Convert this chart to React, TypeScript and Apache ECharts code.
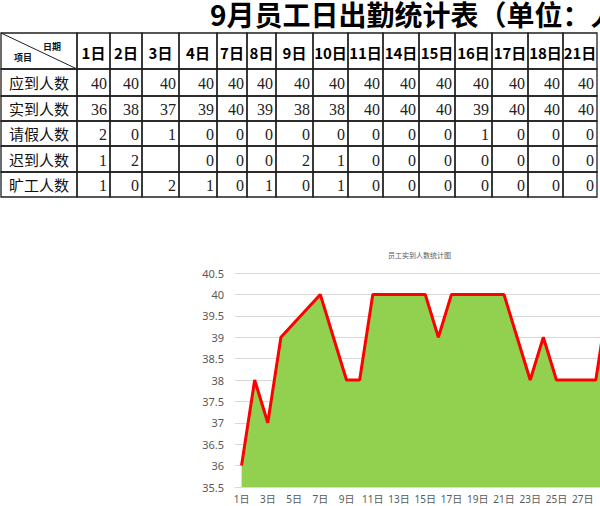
import React, { useEffect, useRef } from 'react';
import * as echarts from 'echarts';

// 标题
const PAGE_TITLE = '9月员工日出勤统计表（单位：人）';
const CHART_TITLE = '员工实到人数统计图';

// 表格数据
const tableDays = ['1日', '2日', '3日', '4日', '7日', '8日', '9日', '10日', '11日', '14日', '15日', '16日', '17日', '18日', '21日'];
const tableDayNums = [1, 2, 3, 4, 7, 8, 9, 10, 11, 14, 15, 16, 17, 18, 21];
const rowNames = ['应到人数', '实到人数', '请假人数', '迟到人数', '旷工人数'];
const expected = [40, 40, 40, 40, 40, 40, 40, 40, 40, 40, 40, 40, 40, 40, 40];
const actual = [36, 38, 37, 39, 40, 39, 38, 38, 40, 40, 40, 39, 40, 40, 40];
const leave = [2, 0, 1, 0, 0, 0, 0, 0, 0, 0, 0, 1, 0, 0, 0];
const late: (number | null)[] = [1, 2, null, 0, 0, 0, 2, 1, 0, 0, 0, 0, 0, 0, 0];
const absent = [1, 0, 2, 1, 0, 1, 0, 1, 0, 0, 0, 0, 0, 0, 0];

// 图表中表格以外的日期（表格右侧被截掉的部分）
const extraDayNums = [22, 23, 24, 25, 28, 29];
const extraActual = [39, 38, 39, 38, 38, 40];

// x轴刻度标签
const axisDays = Array.from({ length: 29 }, (_, i) => `${i + 1}日`);
const LAST_LABEL_INDEX = 26; // 27日 之后的标签在截图外

// 布局（像素）
const COL_W = [76, 33, 32, 37, 38, 30, 29, 37, 35, 35, 36, 36, 37, 36, 35, 34];
const ROW_H = [36, 27, 25, 25, 26, 25];

const App: React.FC = () => {
  const chartRef = useRef<HTMLDivElement>(null);

  useEffect(() => {
    if (!chartRef.current) return;
    const chart = echarts.init(chartRef.current, undefined, { renderer: 'svg' });

    const colEdges = [0];
    COL_W.forEach(w => colEdges.push(colEdges[colEdges.length - 1] + w));
    const rowEdges = [0];
    ROW_H.forEach(h => rowEdges.push(rowEdges[rowEdges.length - 1] + h));
    const tableW = colEdges[colEdges.length - 1];
    const tableH = rowEdges[rowEdges.length - 1];

    type Cell = { c: number; r: number; text: string; kind: 'corner' | 'head' | 'name' | 'num' };
    const rows = [expected, actual, leave, late, absent];
    const cells: Cell[] = [{ c: 0, r: 0, text: '', kind: 'corner' }];
    tableDays.forEach((d, i) => cells.push({ c: i + 1, r: 0, text: d, kind: 'head' }));
    rowNames.forEach((name, r) => {
      cells.push({ c: 0, r: r + 1, text: name, kind: 'name' });
      rows[r].forEach((v, i) =>
        cells.push({ c: i + 1, r: r + 1, text: v == null ? '' : String(v), kind: 'num' })
      );
    });

    const cjk = '"Noto Sans CJK SC", sans-serif';

    const renderCell = (params: any, api: any) => {
      const cell = cells[params.dataIndex];
      const p0 = api.coord([colEdges[cell.c], rowEdges[cell.r]]);
      const p1 = api.coord([colEdges[cell.c + 1], rowEdges[cell.r + 1]]);
      const w = p1[0] - p0[0];
      const h = p1[1] - p0[1];
      const children: any[] = [
        {
          type: 'rect',
          shape: { x: p0[0], y: p0[1], width: w, height: h },
          style: { fill: 'none', stroke: '#1f1f1f', lineWidth: 1.3 }
        }
      ];
      const cy = p0[1] + h / 2;
      if (cell.kind === 'corner') {
        children.push(
          { type: 'line', shape: { x1: p0[0], y1: p0[1], x2: p1[0], y2: p1[1] }, style: { stroke: '#1f1f1f', lineWidth: 1 } },
          { type: 'text', x: p0[0] + 51, y: p0[1] + 13, style: { text: '日期', font: `bold 9px ${cjk}`, fill: '#111', align: 'center', verticalAlign: 'middle' } },
          { type: 'text', x: p0[0] + 22, y: p0[1] + 24, style: { text: '项目', font: `bold 9px ${cjk}`, fill: '#111', align: 'center', verticalAlign: 'middle' } }
        );
      } else if (cell.kind === 'head') {
        children.push({
          type: 'text', x: p0[0] + w / 2, y: cy + 1,
          style: { text: cell.text, font: `bold 15px ${cjk}`, fill: '#000', align: 'center', verticalAlign: 'middle' }
        });
      } else if (cell.kind === 'name') {
        children.push({
          type: 'text', x: p0[0] + w / 2, y: cy,
          style: { text: cell.text, font: `15px ${cjk}`, fill: '#111', align: 'center', verticalAlign: 'middle' }
        });
      } else {
        children.push({
          type: 'text', x: p1[0] - 3, y: cy + 1,
          style: { text: cell.text, font: '16px "Liberation Serif", serif', fill: '#222', align: 'right', verticalAlign: 'middle' }
        });
      }
      return { type: 'group', children };
    };

    const lineData = tableDayNums
      .map((d, i) => [`${d}日`, actual[i]])
      .concat(extraDayNums.map((d, i) => [`${d}日`, extraActual[i]]));

    const options: any = {
      animation: false,
      backgroundColor: '#fff',
      graphic: [
        {
          type: 'text', x: 210, y: 14,
          style: { text: PAGE_TITLE, font: `bold 28px ${cjk}`, fill: '#000', verticalAlign: 'middle' }
        },
        {
          type: 'text', x: 419.5, y: 255,
          style: { text: CHART_TITLE, font: `7px ${cjk}`, fill: '#595959', align: 'center', verticalAlign: 'middle' }
        }
      ],
      grid: [
        { left: 1, top: 33, width: tableW, height: tableH },
        { left: 235, top: 273, width: 380.5, height: 214 }
      ],
      xAxis: [
        { gridIndex: 0, type: 'value', min: 0, max: tableW, show: false },
        {
          gridIndex: 1,
          type: 'category',
          data: axisDays,
          boundaryGap: true,
          axisLine: { lineStyle: { color: '#d9d9d9' } },
          axisTick: { show: false },
          axisLabel: {
            interval: (index: number) => index % 2 === 0 && index <= LAST_LABEL_INDEX,
            fontSize: 10,
            color: '#595959',
            margin: 7,
            fontFamily: 'Noto Sans, "Noto Sans CJK SC"'
          },
          splitLine: { show: false }
        }
      ],
      yAxis: [
        { gridIndex: 0, type: 'value', min: 0, max: tableH, inverse: true, show: false },
        {
          gridIndex: 1,
          type: 'value',
          min: 35.5,
          max: 40.5,
          interval: 0.5,
          axisLine: { show: false },
          axisTick: { show: false },
          axisLabel: { fontSize: 11, color: '#595959', margin: 11, fontFamily: 'Noto Sans' },
          splitLine: { lineStyle: { color: '#d9d9d9', width: 1 } }
        }
      ],
      series: [
        {
          type: 'custom',
          xAxisIndex: 0,
          yAxisIndex: 0,
          clip: false,
          renderItem: renderCell,
          data: cells.map(c => [colEdges[c.c], rowEdges[c.r]])
        },
        {
          type: 'line',
          xAxisIndex: 1,
          yAxisIndex: 1,
          data: lineData,
          symbol: 'none',
          lineStyle: { color: '#ff0000', width: 3 },
          areaStyle: { color: '#92d050', opacity: 1 }
        }
      ]
    };

    chart.setOption(options, true);
    return () => {
      chart.dispose();
    };
  }, []);

  // 画布比窗口宽，右侧被截掉，与原截图一致
  return (
    <div style={{ position: 'absolute', left: 0, top: 0, width: 600, height: 506, overflow: 'hidden', background: '#fff' }}>
      <div ref={chartRef} style={{ width: 680, height: 506 }} />
    </div>
  );
};

export default App;
